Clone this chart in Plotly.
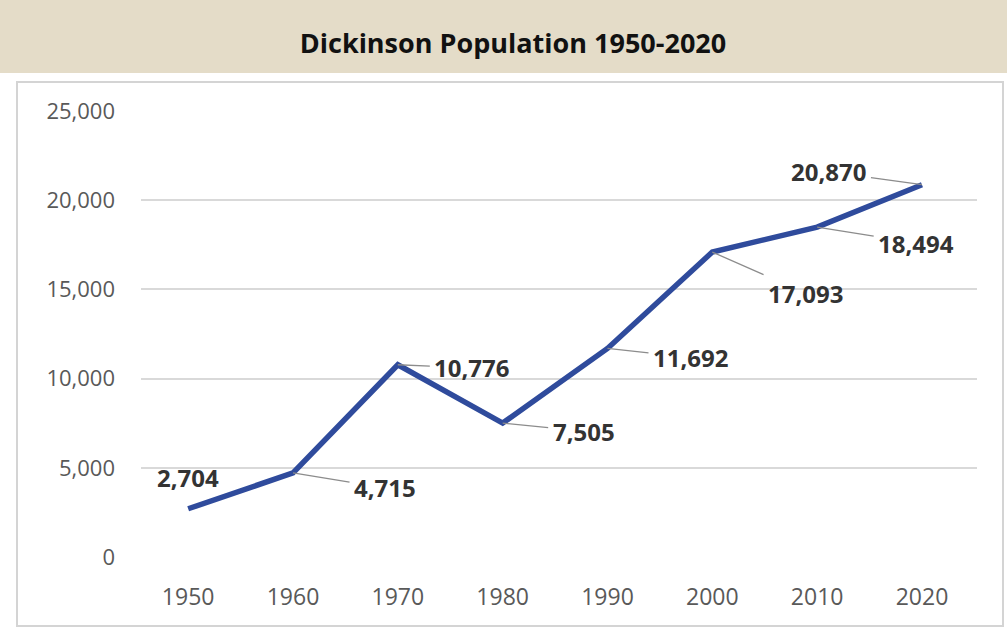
import plotly.graph_objects as go

years = [1950, 1960, 1970, 1980, 1990, 2000, 2010, 2020]
population = [2704, 4715, 10776, 7505, 11692, 17093, 18494, 20870]
labels = ["2,704", "4,715", "10,776", "7,505", "11,692", "17,093", "18,494", "20,870"]
# label offsets (pixels) of text centre relative to point
label_dx = [0, 92, 74, 81, 83, 93, 99, -93]
label_dy = [-31, 15, 3, 8, 9, 41, 16, -13]
label_leader = [False, True, True, True, True, True, True, True]
y_ticks = [0, 5000, 10000, 15000, 20000, 25000]
y_tick_text = ["0", "5,000", "10,000", "15,000", "20,000", "25,000"]

W, H = 1007, 629
L, R, T, B = 141, 30, 111, 72
pw, ph = W - L - R, H - T - B
FONT = "Open Sans, DejaVu Sans, sans-serif"

def px2x(px):
    return (px - L) / pw

def px2y(py):
    return (H - B - py) / ph

fig = go.Figure()
fig.add_trace(go.Scatter(
    x=years, y=population, mode="lines",
    line=dict(color="#2F4B9C", width=5.5),
    hoverinfo="x+y", showlegend=False,
))

for i, (x, y, t) in enumerate(zip(years, population, labels)):
    fig.add_annotation(
        x=x, y=y, text="<b>" + t + "</b>",
        showarrow=True, arrowhead=0, arrowwidth=1.3,
        arrowcolor="#8C8C8C" if label_leader[i] else "rgba(0,0,0,0)",
        ax=label_dx[i], ay=label_dy[i], axref="pixel", ayref="pixel",
        standoff=0, startstandoff=3,
        font=dict(family=FONT, size=24, color="#333333"),
    )

shapes = [
    # title band
    dict(type="rect", xref="paper", yref="paper",
         x0=px2x(0), x1=px2x(W), y0=px2y(73), y1=px2y(0),
         fillcolor="#E4DCC8", line=dict(width=0), layer="below"),
    # chart panel border
    dict(type="rect", xref="paper", yref="paper",
         x0=px2x(17), x1=px2x(1003), y0=px2y(626), y1=px2y(82),
         fillcolor="rgba(0,0,0,0)", line=dict(color="#D4D4D4", width=2), layer="below"),
]

fig.update_layout(
    width=W, height=H,
    margin=dict(l=L, r=R, t=T, b=B),
    paper_bgcolor="white", plot_bgcolor="white",
    shapes=shapes,
    title=dict(text="<b>Dickinson Population 1950-2020</b>",
               x=513 / W, xref="container", xanchor="center",
               y=1 - 44 / H, yref="container", yanchor="middle",
               font=dict(family=FONT, size=27, color="#111111")),
    xaxis=dict(range=[1945.5, 2025.25], tickvals=years, ticktext=[str(y) for y in years],
               showgrid=False, zeroline=False, showline=False, ticks="",
               ticklabelstandoff=24,
               tickfont=dict(family=FONT, size=23, color="#595959")),
    yaxis=dict(range=[0, 25000], tickvals=y_ticks, ticktext=y_tick_text,
               showgrid=True, gridcolor="#D9D9D9", gridwidth=1.5,
               zeroline=False, showline=False, ticks="",
               ticklabelstandoff=25,
               tickfont=dict(family=FONT, size=22, color="#595959")),
)

fig.write_html("out.html", config={"displayModeBar": False},
               post_script="document.body.style.margin='0';document.body.style.overflow='hidden';")
